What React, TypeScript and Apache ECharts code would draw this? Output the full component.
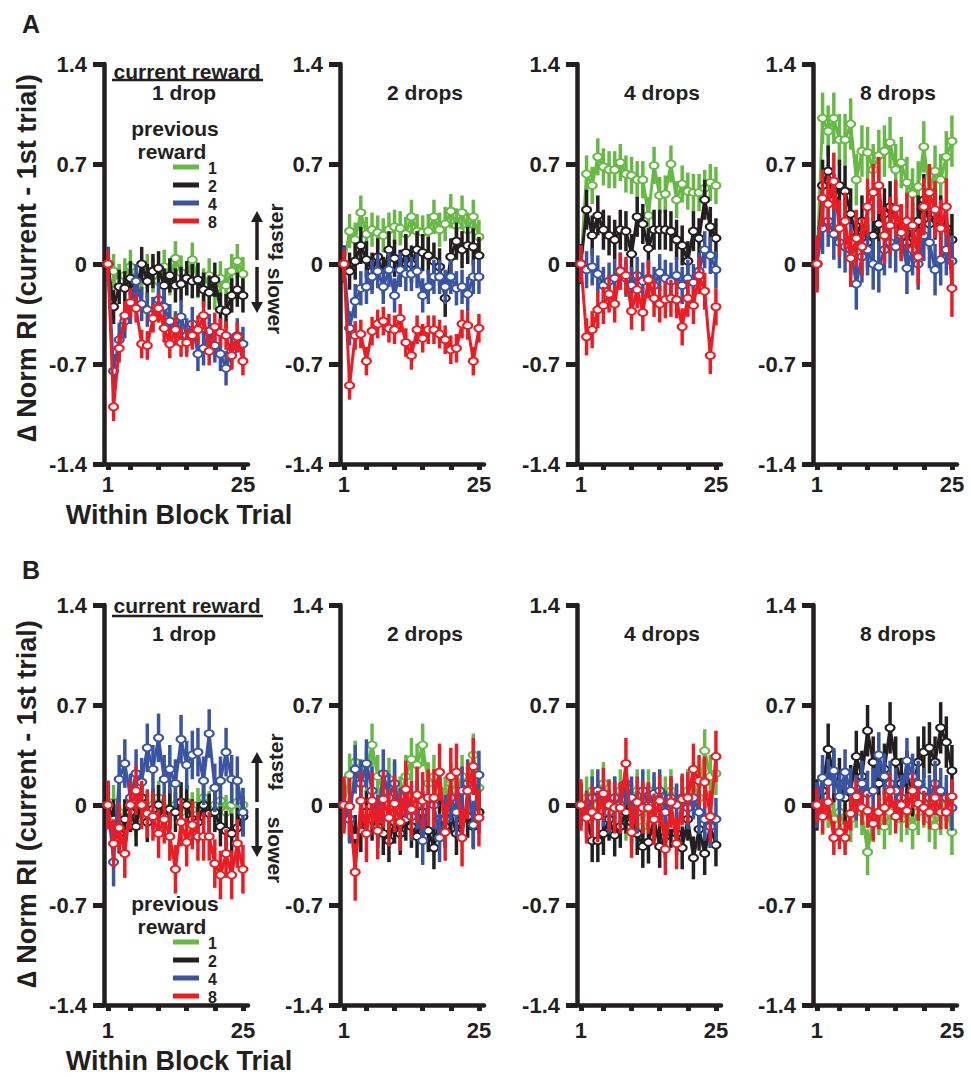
import React, { useEffect, useRef } from "react";
import * as echarts from "echarts";

const TRIALS = [1, 2, 3, 4, 5, 6, 7, 8, 9, 10, 11, 12, 13, 14, 15, 16, 17, 18, 19, 20, 21, 22, 23, 24, 25];
const COLORS = ["#67B945", "#231F20", "#3A54A4", "#EC1C24"];
const PREV_REWARDS = ["1", "2", "4", "8"];
const DROP_TITLES = ["1 drop", "2 drops", "4 drops", "8 drops"];
const Y_TICKS = [-1.4, -0.7, 0, 0.7, 1.4];
const X_TICKS = [1, 5, 10, 15, 20, 25];
const X_LABELS = [1, 25];

// ---- Row A ----
const a1Green = [0, -0.05, -0.12, -0.08, -0.02, -0.15, -0.1, -0.05, -0.08, -0.12, -0.02, -0.1, 0.04, -0.06, -0.1, 0.03, -0.12, -0.15, -0.08, -0.2, -0.1, -0.15, -0.05, 0.02, -0.07];
const a1Black = [0, -0.3, -0.16, -0.17, -0.1, -0.2, 0.0, -0.12, -0.05, -0.03, -0.15, -0.08, -0.15, -0.14, -0.1, -0.12, -0.11, -0.18, -0.2, -0.11, -0.32, -0.33, -0.22, -0.18, -0.22];
const a1Blue = [0, -0.75, -0.53, -0.4, -0.3, -0.12, -0.28, -0.32, -0.35, -0.25, -0.3, -0.4, -0.45, -0.37, -0.5, -0.42, -0.63, -0.59, -0.47, -0.57, -0.63, -0.73, -0.61, -0.5, -0.56];
const a1Red = [0, -1.0, -0.59, -0.36, -0.27, -0.31, -0.56, -0.57, -0.38, -0.31, -0.45, -0.56, -0.46, -0.55, -0.55, -0.5, -0.46, -0.36, -0.61, -0.44, -0.48, -0.5, -0.64, -0.51, -0.68];
const a1Err = [0.12, 0.12, 0.12, 0.1];

const a2Green = [0, 0.23, 0.17, 0.36, 0.21, 0.24, 0.22, 0.2, 0.24, 0.26, 0.25, 0.21, 0.33, 0.23, 0.22, 0.23, 0.33, 0.24, 0.28, 0.37, 0.27, 0.36, 0.24, 0.33, 0.19];
const a2Black = [0, -0.05, 0.02, 0.13, 0.03, -0.05, 0.05, -0.08, 0.1, 0.04, -0.03, 0.08, 0.0, 0.1, 0.08, 0.06, 0.02, -0.02, -0.24, 0.05, 0.16, 0.1, 0.13, 0.12, 0.06];
const a2Blue = [0, -0.45, -0.26, -0.17, -0.16, -0.09, -0.05, -0.16, -0.04, -0.22, -0.04, -0.07, -0.07, -0.05, -0.22, -0.16, -0.09, -0.09, -0.16, -0.09, -0.17, -0.16, -0.21, -0.09, -0.09];
const a2Red = [0, -0.85, -0.5, -0.49, -0.68, -0.47, -0.42, -0.4, -0.45, -0.46, -0.38, -0.55, -0.64, -0.46, -0.52, -0.46, -0.46, -0.49, -0.53, -0.6, -0.59, -0.42, -0.43, -0.68, -0.45];
const a2Err = [0.12, 0.13, 0.12, 0.1];

const a3Green = [0, 0.63, 0.55, 0.75, 0.68, 0.66, 0.66, 0.71, 0.63, 0.62, 0.59, 0.59, 0.34, 0.69, 0.48, 0.49, 0.7, 0.45, 0.56, 0.51, 0.5, 0.5, 0.53, 0.57, 0.55];
const a3Black = [0, 0.38, 0.2, 0.34, 0.24, 0.2, 0.17, 0.24, 0.23, 0.07, 0.33, 0.28, 0.11, 0.24, 0.24, 0.24, 0.23, 0.17, 0.13, 0.02, 0.23, 0.18, 0.45, 0.26, 0.18];
const a3Blue = [0, -0.04, -0.02, -0.07, -0.15, -0.12, -0.1, -0.05, -0.1, -0.15, -0.08, -0.12, -0.1, -0.15, -0.06, -0.1, -0.12, -0.08, -0.15, -0.1, -0.13, -0.05, 0.1, 0.06, -0.04];
const a3Red = [0, -0.51, -0.46, -0.32, -0.29, -0.21, -0.28, -0.05, -0.08, -0.33, -0.18, -0.34, -0.11, -0.24, -0.28, -0.25, -0.24, -0.25, -0.44, -0.24, -0.29, -0.08, -0.19, -0.64, -0.3];
const a3Err = [0.13, 0.14, 0.13, 0.13];

const a4Green = [0, 1.02, 0.93, 1.02, 0.87, 0.87, 0.98, 0.59, 0.79, 0.78, 0.66, 0.76, 0.79, 0.85, 0.66, 0.71, 0.57, 0.49, 0.54, 0.82, 0.51, 0.65, 0.59, 0.75, 0.86];
const a4Black = [0, 0.55, 0.65, 0.45, 0.55, 0.51, 0.35, 0.19, 0.3, 0.15, 0.2, 0.28, 0.35, 0.4, 0.3, 0.22, 0.15, 0.25, 0.3, 0.45, 0.28, 0.35, 0.3, 0.25, 0.17];
const a4Blue = [0, 0.25, 0.3, 0.21, 0.15, 0.12, 0.1, -0.14, 0.05, 0.1, 0.0, -0.02, 0.1, 0.15, 0.12, 0.2, -0.03, 0.1, 0.0, 0.2, 0.15, -0.04, 0.03, 0.1, 0.02];
const a4Red = [0, 0.46, 0.42, 0.58, 0.25, 0.3, 0.04, 0.18, 0.12, 0.4, 0.5, 0.55, 0.2, 0.27, 0.39, 0.22, 0.3, 0.27, 0.05, 0.4, 0.5, 0.38, 0.25, 0.4, -0.17];
const a4Err = [0.18, 0.18, 0.18, 0.2];

// ---- Row B ----
const b1Green = [0, 0.02, -0.05, -0.08, 0.0, -0.1, 0.03, -0.02, 0.0, 0.05, -0.05, -0.02, 0.0, -0.05, 0.02, -0.03, 0.0, 0.05, -0.02, 0.0, 0.03, -0.05, 0.0, 0.02, 0.0];
const b1Black = [0, -0.1, -0.2, -0.1, -0.05, -0.15, 0.05, -0.12, -0.03, 0.0, -0.08, -0.03, -0.05, 0.02, 0.0, -0.1, -0.12, 0.0, -0.06, -0.05, -0.15, -0.18, -0.2, -0.16, -0.08];
const b1Blue = [0, -0.4, 0.18, 0.29, 0.05, 0.22, 0.16, 0.4, 0.25, 0.47, 0.18, 0.25, 0.15, 0.46, 0.28, 0.35, 0.37, 0.17, 0.5, 0.12, 0.17, 0.37, 0.18, 0.17, -0.05];
const b1Red = [0, -0.27, -0.16, -0.34, 0.0, 0.1, 0.0, -0.06, -0.08, -0.2, -0.1, -0.22, -0.45, -0.12, -0.26, -0.14, -0.22, -0.22, -0.22, -0.41, -0.49, -0.34, -0.49, -0.27, -0.45];
const b1Err = [0.12, 0.14, 0.17, 0.17];

const b2Green = [0, 0.21, 0.3, 0.15, 0.25, 0.42, 0.2, 0.1, 0.18, 0.15, 0.05, 0.2, 0.32, 0.28, 0.42, 0.15, 0.2, 0.1, 0.05, 0.15, 0.1, 0.2, 0.15, 0.35, 0.12];
const b2Black = [0, -0.1, -0.22, -0.18, -0.05, -0.1, -0.15, -0.2, -0.25, -0.12, -0.2, -0.1, -0.15, -0.22, -0.05, -0.18, -0.3, -0.1, -0.15, -0.05, -0.2, -0.1, -0.08, -0.15, -0.05];
const b2Blue = [0, -0.1, 0.25, 0.15, 0.29, 0.1, -0.1, 0.22, 0.05, 0.15, -0.05, 0.1, -0.08, 0.0, -0.25, 0.05, 0.0, -0.23, -0.1, 0.05, -0.05, 0.1, 0.15, -0.14, 0.21];
const b2Red = [0, -0.01, -0.47, 0.03, -0.2, 0.03, -0.18, 0.04, -0.09, 0.01, -0.12, 0.11, -0.03, 0.07, 0.03, 0.05, 0.05, 0.23, -0.19, 0.2, 0.23, -0.23, 0.1, 0.27, -0.09];
const b2Err = [0.15, 0.15, 0.17, 0.2];

const b3Green = [0, 0.05, 0.1, 0.0, 0.15, -0.05, 0.05, 0.1, -0.1, 0.0, 0.1, -0.15, 0.1, 0.05, 0.0, 0.05, 0.1, 0.0, 0.05, 0.1, 0.15, 0.05, 0.38, 0.2, 0.22];
const b3Black = [0, -0.08, -0.25, -0.25, -0.2, -0.1, -0.21, -0.15, -0.05, -0.12, -0.2, -0.29, -0.26, -0.1, -0.29, -0.22, -0.15, -0.2, -0.3, -0.1, -0.37, -0.17, -0.34, -0.15, -0.28];
const b3Blue = [0, -0.05, 0.05, 0.1, 0.0, -0.05, 0.05, 0.0, 0.15, 0.05, -0.05, 0.1, 0.0, 0.08, 0.1, -0.05, 0.05, 0.0, 0.05, -0.02, 0.05, -0.05, -0.1, -0.15, -0.1];
const b3Red = [0, -0.09, -0.05, -0.08, 0.08, 0.0, -0.02, -0.02, 0.29, -0.19, 0.02, -0.02, -0.02, -0.1, 0.03, -0.31, 0.02, -0.27, 0.04, 0.05, 0.25, 0.17, 0.16, -0.08, 0.34];
const b3Err = [0.15, 0.15, 0.15, 0.18];

const b4Green = [0, -0.05, 0.0, -0.1, -0.05, -0.15, -0.1, 0.0, -0.05, -0.33, -0.1, -0.05, -0.15, -0.05, 0.0, -0.1, -0.05, -0.15, -0.05, 0.0, -0.1, -0.15, -0.05, 0.0, -0.19];
const b4Black = [0, 0.1, 0.39, 0.2, 0.15, 0.05, 0.1, 0.34, 0.2, 0.52, 0.3, 0.15, 0.25, 0.54, 0.3, 0.15, 0.2, 0.1, 0.3, 0.37, 0.4, 0.3, 0.54, 0.44, 0.24];
const b4Blue = [0, 0.19, 0.16, 0.24, 0.06, 0.23, 0.1, 0.05, 0.15, 0.08, 0.1, 0.35, 0.2, 0.15, 0.1, 0.05, 0.31, 0.2, 0.15, 0.1, 0.05, 0.15, 0.1, 0.05, -0.02];
const b4Red = [0, -0.08, 0.02, -0.23, -0.19, -0.23, -0.06, 0.06, -0.02, -0.04, -0.13, -0.05, -0.02, 0.1, -0.08, 0.0, -0.04, 0.1, 0.01, -0.02, -0.05, 0.05, -0.05, -0.05, 0.06];
const b4Err = [0.16, 0.18, 0.16, 0.12];

const PANELS = [
  { series: [a1Green, a1Black, a1Blue, a1Red], err: a1Err },
  { series: [a2Green, a2Black, a2Blue, a2Red], err: a2Err },
  { series: [a3Green, a3Black, a3Blue, a3Red], err: a3Err },
  { series: [a4Green, a4Black, a4Blue, a4Red], err: a4Err },
  { series: [b1Green, b1Black, b1Blue, b1Red], err: b1Err },
  { series: [b2Green, b2Black, b2Blue, b2Red], err: b2Err },
  { series: [b3Green, b3Black, b3Blue, b3Red], err: b3Err },
  { series: [b4Green, b4Black, b4Blue, b4Red], err: b4Err },
];

const FONT = "'Liberation Sans', Arial, Helvetica, sans-serif";
const INK = "#231F20";
const AXIS_X = [104, 340, 577, 813];
const ROW_TOP = [64, 605];
const PLOT_W = 144;
const PLOT_H = 400;

function txt(text: string, x: number, y: number, size: number, extra: any = {}) {
  return {
    type: "text",
    x,
    y,
    rotation: extra.rotation || 0,
    style: {
      text,
      fill: INK,
      font: `bold ${size}px ${FONT}`,
      align: extra.align || "center",
      verticalAlign: "middle",
    },
  };
}

function legendBlock(top: number) {
  const els: any[] = [];
  els.push(txt("previous", 175, top, 21));
  els.push(txt("reward", 172, top + 23, 21));
  const step = 18;
  PREV_REWARDS.forEach((lab, i) => {
    const y = top + 39 + i * step;
    els.push({
      type: "line",
      shape: { x1: 173, y1: y, x2: 199, y2: y },
      style: { stroke: COLORS[i], lineWidth: 5 },
    });
    els.push(txt(lab, 208, y + 1, 16, { align: "left" }));
  });
  return els;
}

function arrows(upTop: number, upBot: number, dnTop: number, dnBot: number, fasterY: number, slowerY: number) {
  const x = 257;
  return [
    { type: "line", shape: { x1: x, y1: upBot, x2: x, y2: upTop + 8 }, style: { stroke: INK, lineWidth: 3.5 } },
    { type: "polygon", shape: { points: [[x - 6, upTop + 11], [x + 6, upTop + 11], [x, upTop]] }, style: { fill: INK } },
    { type: "line", shape: { x1: x, y1: dnTop, x2: x, y2: dnBot - 8 }, style: { stroke: INK, lineWidth: 3.5 } },
    { type: "polygon", shape: { points: [[x - 6, dnBot - 11], [x + 6, dnBot - 11], [x, dnBot]] }, style: { fill: INK } },
    txt("faster", 275, fasterY, 21, { rotation: Math.PI / 2 }),
    txt("slower", 275, slowerY, 21, { rotation: -Math.PI / 2 }),
  ];
}

export default function App() {
  const ref = useRef<HTMLDivElement>(null);

  useEffect(() => {
    if (!ref.current) return;
    const chart = echarts.init(ref.current, null, { renderer: "svg" });

    const grid: any[] = [];
    const xAxis: any[] = [];
    const yAxis: any[] = [];
    const series: any[] = [];

    PANELS.forEach((panel, p) => {
      const row = p < 4 ? 0 : 1;
      const col = p % 4;
      grid.push({ left: AXIS_X[col], top: ROW_TOP[row], width: PLOT_W, height: PLOT_H });
      xAxis.push({
        gridIndex: p,
        type: "value",
        min: 0.3,
        max: 25.9,
        axisLine: { show: true, onZero: false, lineStyle: { color: INK, width: 4.5 } },
        axisTick: { show: true, customValues: X_TICKS, length: 6, lineStyle: { color: INK, width: 5 } },
        axisLabel: {
          customValues: X_LABELS,
          color: INK,
          fontSize: 22,
          fontWeight: "bold",
          fontFamily: FONT,
          margin: row === 0 ? 9 : 14,
        },
        splitLine: { show: false },
      });
      yAxis.push({
        gridIndex: p,
        type: "value",
        min: -1.4,
        max: 1.4,
        axisLine: { show: true, onZero: false, lineStyle: { color: INK, width: 4.5 } },
        axisTick: { show: true, customValues: Y_TICKS, length: 11, lineStyle: { color: INK, width: 5 } },
        axisLabel: {
          customValues: Y_TICKS,
          color: INK,
          fontSize: 22,
          fontWeight: "bold",
          fontFamily: FONT,
          margin: 17,
          formatter: (v: number) => (Math.abs(v) < 1e-9 ? "0" : String(v)),
        },
        splitLine: { show: false },
      });

      panel.series.forEach((vals, s) => {
        const color = COLORS[s];
        const e = panel.err[s];
        series.push({
          type: "custom",
          xAxisIndex: p,
          yAxisIndex: p,
          silent: true,
          z: 2 + s * 2,
          clip: false,
          encode: { x: 0, y: [1, 2] },
          data: vals.map((v, i) => [TRIALS[i], v - e, v + e]),
          renderItem: (_params: any, api: any) => {
            const a = api.coord([api.value(0), api.value(1)]);
            const b = api.coord([api.value(0), api.value(2)]);
            return {
              type: "line",
              shape: { x1: a[0], y1: a[1], x2: b[0], y2: b[1] },
              style: { stroke: color, lineWidth: 3.5 },
            };
          },
        });
        series.push({
          type: "line",
          xAxisIndex: p,
          yAxisIndex: p,
          silent: true,
          z: 3 + s * 2,
          data: vals.map((v, i) => [TRIALS[i], v]),
          symbol: "emptyCircle",
          symbolSize: [9, 7],
          showAllSymbol: true,
          lineStyle: { color, width: 3 },
          itemStyle: { color, borderColor: color, borderWidth: 2.2 },
        });
      });
    });

    const graphic: any[] = [];
    graphic.push(txt("A", 31, 24, 25));
    graphic.push(txt("B", 31, 570, 25));
    graphic.push(txt("\u2206 Norm RI (current - 1st trial)", 27, 258, 27, { rotation: Math.PI / 2 }));
    graphic.push(txt("\u2206 Norm RI (current - 1st trial)", 27, 804, 27, { rotation: Math.PI / 2 }));
    graphic.push(txt("Within Block Trial", 179, 515, 27));
    graphic.push(txt("Within Block Trial", 179, 1061, 27));

    const crTextY = [71, 605];
    const crLineY = [80, 616];
    [0, 1].forEach((row) => {
      const top = ROW_TOP[row];
      graphic.push(txt("current reward", 187, crTextY[row], 21));
      graphic.push({
        type: "line",
        shape: { x1: 112, y1: crLineY[row], x2: 263, y2: crLineY[row] },
        style: { stroke: INK, lineWidth: 2.5 },
      });
      DROP_TITLES.forEach((t, c) => {
        graphic.push(txt(t, AXIS_X[c] + (c === 0 ? 80 : 85), top + 28, 21));
      });
    });

    graphic.push(...legendBlock(128));
    graphic.push(...legendBlock(903));
    graphic.push(...arrows(211, 260, 267, 313, 232, 301));
    graphic.push(...arrows(752, 802, 808, 857, 762, 850));

    chart.setOption({
      animation: false,
      backgroundColor: "#ffffff",
      grid,
      xAxis,
      yAxis,
      series,
      graphic: graphic.map((g) => ({ ...g, z: 100 })),
    });

    return () => chart.dispose();
  }, []);

  return (
    <div
      ref={ref}
      style={{ position: "absolute", left: 0, top: 0, width: 971, height: 1077 }}
    />
  );
}
